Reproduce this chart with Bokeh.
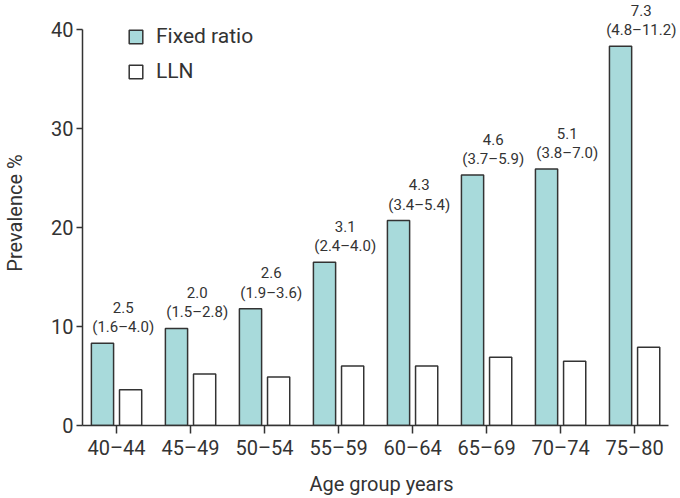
from bokeh.plotting import figure
from bokeh.models import ColumnDataSource, Range1d, FixedTicker, Legend, LegendItem
from bokeh.transform import dodge
from bokeh.core.properties import value
from bokeh.embed import file_html
from bokeh.resources import INLINE

categories = ["40–44", "45–49", "50–54", "55–59", "60–64", "65–69", "70–74", "75–80"]
fixed_ratio = [8.3, 9.8, 11.8, 16.5, 20.7, 25.3, 25.9, 38.3]
lln = [3.6, 5.2, 4.9, 6.0, 6.0, 6.9, 6.5, 7.9]
ratio_text = ["2.5", "2.0", "2.6", "3.1", "4.3", "4.6", "5.1", "7.3"]
ci_text = ["(1.6–4.0)", "(1.5–2.8)", "(1.9–3.6)", "(2.4–4.0)",
           "(3.4–5.4)", "(3.7–5.9)", "(3.8–7.0)", "(4.8–11.2)"]

FONT = "Roboto"
DARK = "#333333"
TEAL = "#a8dadb"

src = ColumnDataSource(dict(
    x=list(range(len(categories))),
    fixed=fixed_ratio, lln=lln, ratio=ratio_text, ci=ci_text,
))

p = figure(width=680, height=498, output_backend="svg", toolbar_location=None,
           x_range=Range1d(-0.46, 7.62), y_range=Range1d(0, 42.93),
           min_border_left=82, min_border_right=0, min_border_top=0, min_border_bottom=73)
p.outline_line_color = None
p.grid.visible = False
p.background_fill_color = "white"

r1 = p.vbar(x=dodge("x", -0.19, range=p.x_range), top="fixed", width=0.3, source=src,
            fill_color=TEAL, line_color=DARK, line_width=1.5)
r2 = p.vbar(x=dodge("x", 0.19, range=p.x_range), top="lln", width=0.3, source=src,
            fill_color="white", line_color=DARK, line_width=1.5)

p.text(x=dodge("x", 0.09, range=p.x_range), y="fixed", text="ci", source=src,
       y_offset=-16, text_align="center", text_baseline="middle",
       text_font=value(FONT), text_font_size="15px", text_color=DARK)
p.text(x=dodge("x", 0.09, range=p.x_range), y="fixed", text="ratio", source=src,
       y_offset=-36, text_align="center", text_baseline="middle",
       text_font=value(FONT), text_font_size="15px", text_color=DARK)

# axes
xa = p.xaxis[0]
xa.ticker = FixedTicker(ticks=list(range(len(categories))))
xa.major_label_overrides = {i: c for i, c in enumerate(categories)}
xa.bounds = (-0.46, 7.46)
xa.minor_tick_line_color = None
xa.major_tick_out = 8
xa.major_tick_in = 0
xa.axis_label = "Age group years"
xa.axis_label_text_font = FONT
xa.axis_label_text_font_size = "20px"
xa.axis_label_text_font_style = "normal"
xa.axis_label_text_color = DARK
xa.axis_label_standoff = 9
xa.major_label_text_font = FONT
xa.major_label_text_font_size = "20px"
xa.major_label_text_color = DARK
xa.major_label_standoff = 2
xa.axis_line_color = DARK
xa.axis_line_width = 1.5
xa.major_tick_line_color = DARK
xa.major_tick_line_width = 1.5

ya = p.yaxis[0]
ya.ticker = FixedTicker(ticks=[0, 10, 20, 30, 40])
ya.bounds = (0, 40)
ya.minor_tick_line_color = None
ya.major_tick_out = 6
ya.major_tick_in = 0
ya.axis_label = "Prevalence %"
ya.axis_label_text_font = FONT
ya.axis_label_text_font_size = "20px"
ya.axis_label_text_font_style = "normal"
ya.axis_label_text_color = DARK
ya.axis_label_standoff = 21
ya.major_label_text_font = FONT
ya.major_label_text_font_size = "20px"
ya.major_label_text_color = DARK
ya.major_label_standoff = 3
ya.axis_line_color = DARK
ya.axis_line_width = 1.5
ya.major_tick_line_color = DARK
ya.major_tick_line_width = 1.5

legend = Legend(items=[LegendItem(label="Fixed ratio", renderers=[r1]),
                       LegendItem(label="LLN", renderers=[r2])],
                location=(45, 342), orientation="vertical",
                glyph_width=17, glyph_height=17, label_height=17,
                spacing=11, padding=0, margin=0, label_standoff=12,
                label_text_font=FONT, label_text_font_size="21px",
                label_text_color=DARK, label_text_baseline="middle",
                border_line_color=None, background_fill_alpha=0)
p.add_layout(legend)

open("out.html", "w").write(file_html(p, INLINE))
